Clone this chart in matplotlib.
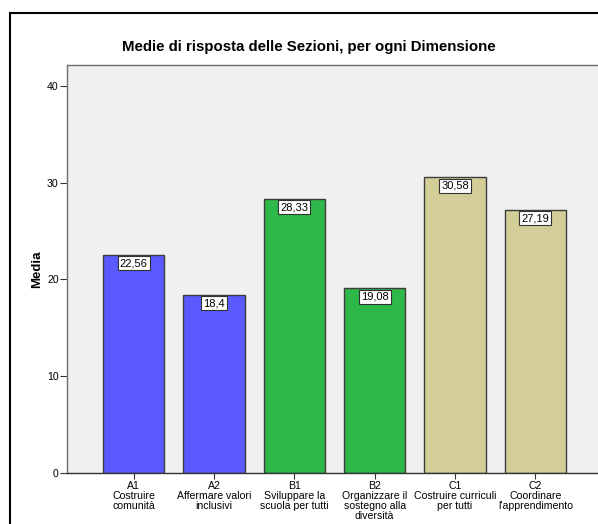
import matplotlib.pyplot as plt
import matplotlib.patches as patches
import numpy as np

plt.rcParams['font.family'] = ['Liberation Sans', 'DejaVu Sans']

# Sezioni e medie per dimensione
codici = ["A1", "A2", "B1", "B2", "C1", "C2"]
sezioni = [
	"Costruire\ncomunità",
	"Affermare valori\ninclusivi",
	"Sviluppare la\nscuola per tutti",
	"Organizzare il\nsostegno alla\ndiversità",
	"Costruire curriculi\nper tutti",
	"Coordinare\nl'apprendimento",
]
medie = [22.56, 18.4, 28.33, 19.08, 30.58, 27.19]
dimensioni = ["A", "A", "B", "B", "C", "C"]
colori_dim = {"A": "#5a5aff", "B": "#2eb84a", "C": "#d3ce98"}

fig = plt.figure(figsize=(5.98, 5.24), dpi=100)

# cornice esterna
fig.patches.append(patches.Rectangle(
	(10 / 598, -0.1), 1.2, 1.1 - 13 / 524,
	transform=fig.transFigure, fill=False, edgecolor="black", linewidth=1.5, zorder=0
))

ax = fig.add_axes([67 / 598, 1 - 473 / 524, 535 / 598, 408 / 524])
ax.set_facecolor("#f0f0f0")

x = np.arange(len(medie))
bars = ax.bar(
	x, medie, width=0.76,
	color=[colori_dim[d] for d in dimensioni],
	edgecolor="#3c3c3c", linewidth=1.0, zorder=2
)

for xi, v in zip(x, medie):
	testo = f"{v:g}".replace(".", ",")
	ax.annotate(
		testo, (xi, v), xytext=(0, -2.5), textcoords="offset points",
		ha="center", va="top", fontsize=8, zorder=3,
		bbox=dict(boxstyle="square,pad=0.18", facecolor="white", edgecolor="#333333", linewidth=0.8)
	)

ax.set_xlim(-0.83, 5.83)
ax.set_ylim(0, 42.17)
ax.set_yticks([0, 10, 20, 30, 40])
ax.set_xticks(x)
ax.set_xticklabels([f"{c}\n{s}" for c, s in zip(codici, sezioni)], fontsize=7.6, linespacing=0.98)
ax.tick_params(axis="y", labelsize=7.6, length=5, width=0.8, color="#333333", pad=1)
ax.tick_params(axis="x", length=4, width=0.8, color="#333333", pad=2)

ax.spines["right"].set_visible(False)
ax.spines["left"].set_color("#707070")
ax.spines["top"].set_color("#707070")
ax.spines["bottom"].set_color("#333333")
for sp in ax.spines.values():
	sp.set_linewidth(1.0)

ax.set_ylabel("Media", fontsize=9.5, fontweight="bold", labelpad=3)
fig.text(0.517, 1 - 47 / 524, "Medie di risposta delle Sezioni, per ogni Dimensione",
	ha="center", va="center", fontsize=10.8, fontweight="bold")

fig.savefig("out.png", dpi=100)
